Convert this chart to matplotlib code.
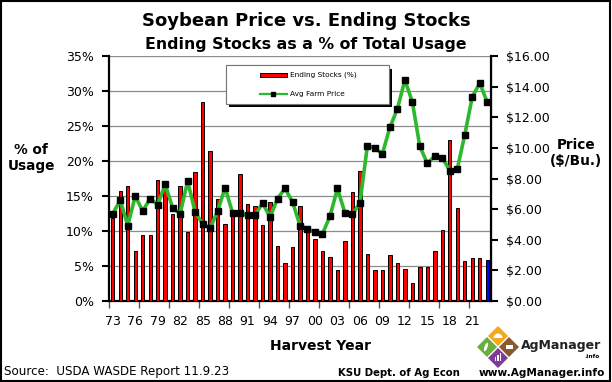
import matplotlib.pyplot as plt
from matplotlib.patches import Rectangle, Polygon, Wedge, Ellipse
from matplotlib.lines import Line2D
import matplotlib.patheffects as pe

# Harvest years 1973-2023
years = list(range(1973, 2024))

# Ending stocks as % of total usage
stocks_pct = [11.9, 15.7, 16.5, 7.2, 9.5, 9.5, 17.3, 17.0, 12.5, 16.5,
              9.8, 18.4, 28.5, 21.5, 14.6, 11.0, 12.7, 18.1, 13.8, 13.6,
              10.8, 14.1, 7.8, 5.5, 7.7, 13.6, 10.5, 8.8, 7.1, 6.3,
              4.5, 8.6, 15.6, 18.6, 6.7, 4.5, 4.5, 6.6, 5.4, 4.6,
              2.6, 4.8, 4.9, 7.1, 10.2, 23.0, 13.3, 5.7, 6.1, 6.2,
              5.8]

# Average farm price ($/bu)
price = [5.70, 6.58, 4.93, 6.84, 5.88, 6.69, 6.29, 7.63, 6.07, 5.70,
         7.83, 5.81, 5.04, 4.76, 5.86, 7.41, 5.75, 5.75, 5.59, 5.59,
         6.40, 5.48, 6.69, 7.35, 6.47, 4.93, 4.71, 4.50, 4.39, 5.53,
         7.35, 5.75, 5.66, 6.40, 10.15, 9.98, 9.61, 11.34, 12.54, 14.43,
         13.00, 10.09, 8.99, 9.47, 9.36, 8.51, 8.62, 10.86, 13.33, 14.23,
         12.98]

tick_labels = ['73', '76', '79', '82', '85', '88', '91', '94', '97',
               '00', '03', '06', '09', '12', '15', '18', '21']

W, H = 612, 382
fig = plt.figure(figsize=(W / 100, H / 100), dpi=100)
fig.patch.set_facecolor('white')

def fx(px):
    return px / W

def fy(py):
    return 1 - py / H

# main plot area
ax = fig.add_axes([fx(109), fy(301), fx(382), 245 / H])
x = list(range(len(years)))
colors = ['#FF0000'] * (len(years) - 1) + ['#0000FF']
ax.bar(x, stocks_pct, width=0.45, color=colors, edgecolor='black',
       linewidth=0.7, zorder=3)
ax.set_xlim(-0.5, len(years) - 0.5)
ax.set_ylim(0, 35)
ax.set_yticks(range(0, 36, 5))
ax.set_yticklabels([f'{v}%' for v in range(0, 36, 5)], fontsize=9)
ax.yaxis.grid(True, color='#8c8c8c', linewidth=0.9, zorder=0)
ax.set_axisbelow(True)

# x labels every 3 years, tick marks every 4 categories
ax.set_xticks(range(0, len(years), 3))
ax.set_xticklabels(tick_labels, fontsize=9)
ax.set_xticks([i - 0.5 for i in range(0, len(years), 4)], minor=True)
ax.tick_params(axis='x', which='major', length=0, pad=10)
ax.tick_params(axis='x', which='minor', length=5, width=1, color='#555555')
ax.tick_params(axis='y', length=5, width=1.5, pad=6)

ax.spines['top'].set_visible(False)
for s in ['left', 'bottom']:
    ax.spines[s].set_linewidth(1.6)

# price on the right axis
ax2 = ax.twinx()
ax2.plot(x, price, color='#2DB82D', linewidth=2.6, marker='s',
         markersize=4, markerfacecolor='black', markeredgecolor='black',
         zorder=4)
ax2.set_ylim(0, 16)
ax2.set_yticks(range(0, 17, 2))
ax2.set_yticklabels([f'${v:.2f}' for v in range(0, 17, 2)], fontsize=9)
ax2.tick_params(axis='y', length=5, width=1.5, pad=6)
ax2.spines['top'].set_visible(False)
ax2.spines['right'].set_linewidth(1.6)
ax2.spines['left'].set_visible(False)
ax2.spines['bottom'].set_visible(False)

# legend box drawn by hand to match the wide Excel legend
box = Rectangle((0.306, 0.804), 0.427, 0.159, transform=ax2.transAxes,
                facecolor='white', edgecolor='#777777', linewidth=0.8,
                zorder=10,
                path_effects=[pe.withSimplePatchShadow(offset=(2.5, -2.5),
                                                       shadow_rgbFace='black',
                                                       alpha=1.0),
                              pe.Normal()])
ax2.add_patch(box)
ax2.add_patch(Rectangle((0.395, 0.914), 0.071, 0.017,
                        transform=ax2.transAxes, facecolor='#FF0000',
                        edgecolor='black', linewidth=0.7, zorder=11))
ax2.add_line(Line2D([0.395, 0.466], [0.845, 0.845], transform=ax2.transAxes,
                    color='#2DB82D', linewidth=1.6, zorder=11))
ax2.add_line(Line2D([0.4305], [0.845], transform=ax2.transAxes, marker='s',
                    markersize=3.5, color='black', zorder=12))
ax2.text(0.474, 0.922, 'Ending Stocks (%)', transform=ax2.transAxes,
         fontsize=5.3, va='center', ha='left', zorder=12)
ax2.text(0.474, 0.845, 'Avg Farm Price', transform=ax2.transAxes,
         fontsize=5.3, va='center', ha='left', zorder=12)

# titles and axis titles
fig.text(0.5, fy(21), 'Soybean Price vs. Ending Stocks', ha='center',
         va='center', fontsize=13, fontweight='bold')
fig.text(0.5, fy(44), 'Ending Stocks as a % of Total Usage', ha='center',
         va='center', fontsize=11.3, fontweight='bold')
fig.text(fx(31), fy(158), '% of\nUsage', ha='center', va='center',
         fontsize=9.8, fontweight='bold', linespacing=1.15)
fig.text(fx(576), fy(153), 'Price\n($/Bu.)', ha='center', va='center',
         fontsize=9.8, fontweight='bold', linespacing=1.15)
fig.text(fx(320), fy(346), 'Harvest Year', ha='center', va='center',
         fontsize=10, fontweight='bold')

# footer
fig.text(fx(4), fy(372), 'Source:  USDA WASDE Report 11.9.23', ha='left',
         va='center', fontsize=8.6)
fig.text(fx(338), fy(373), 'KSU Dept. of Ag Econ', ha='left', va='center',
         fontsize=7.3, fontweight='bold')
fig.text(fx(605), fy(373), 'www.AgManager.info', ha='right', va='center',
         fontsize=7.6, fontweight='bold')

# AgManager logo
lg = fig.add_axes([fx(477), fy(369), fx(44), 44 / H])
lg.set_xlim(0, 44)
lg.set_ylim(0, 44)
lg.axis('off')

def diamond(cx, cy, r, color):
    lg.add_patch(Polygon([(cx, cy + r), (cx + r, cy), (cx, cy - r),
                          (cx - r, cy)], closed=True, facecolor=color,
                         edgecolor='none'))

diamond(21, 33, 10, '#F4A81D')
diamond(10, 22, 10, '#6AAF3D')
diamond(32, 22, 10, '#8A5A2E')
diamond(21, 11, 10, '#7D3C98')
lg.add_patch(Wedge((21, 31), 4.5, 0, 180, facecolor='white'))
lg.add_patch(Ellipse((9, 22), 3, 9, angle=-20, facecolor='white'))
lg.add_patch(Rectangle((28.5, 20), 7, 4, facecolor='white'))
lg.add_patch(Rectangle((17.5, 8), 1.5, 4, facecolor='white'))
lg.add_patch(Rectangle((20.2, 8), 1.5, 6, facecolor='white'))
lg.add_patch(Rectangle((22.9, 8), 1.5, 8, facecolor='white'))

fig.text(fx(521), fy(345), 'AgManager', ha='left', va='center',
         fontsize=9, fontweight='bold', color='#222222')
fig.text(fx(600), fy(356), '.info', ha='right', va='center',
         fontsize=4.2, fontweight='bold')

# outer frame
fig.add_artist(Rectangle((0.002, 0.003), 0.995, 0.994,
                         transform=fig.transFigure, fill=False,
                         edgecolor='black', linewidth=1.5))

fig.savefig('out.png', dpi=100)
